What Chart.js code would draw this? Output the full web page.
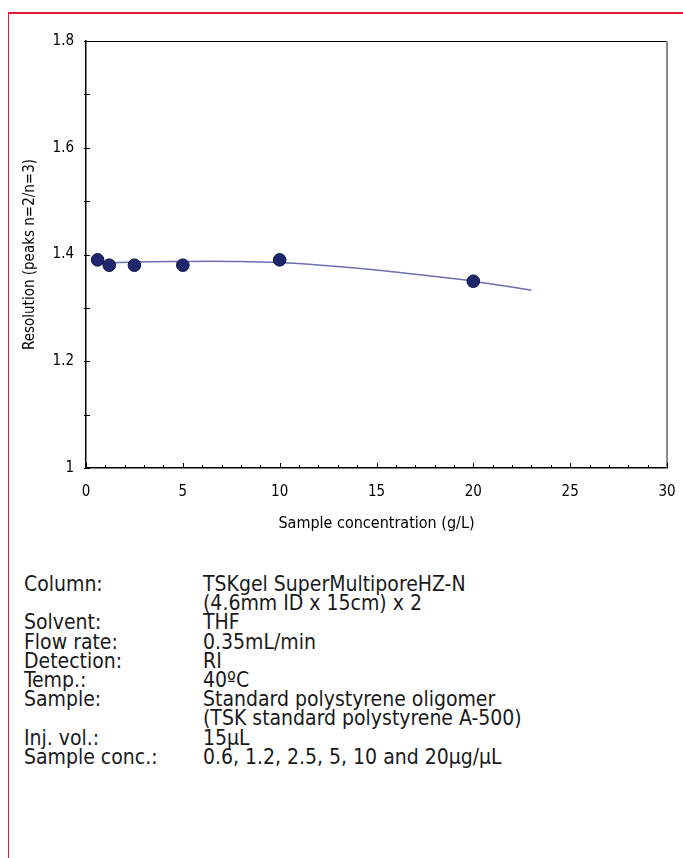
<!DOCTYPE html>
<html>
<head>
<meta charset="utf-8">
<script src="https://cdn.jsdelivr.net/npm/chart.js@4.4.1/dist/chart.umd.min.js"></script>
<style>
  html, body { margin: 0; padding: 0; background: #fff; }
  body { width: 683px; height: 858px; position: relative; overflow: hidden;
         font-family: "Liberation Sans Narrow", "DejaVu Sans Condensed", "Roboto", sans-serif; }
  #frame { position: absolute; left: 8px; top: 12px; right: 0; bottom: 0;
           border-top: 2px solid #e8173a; border-left: 1.5px solid #e8173a; }
  #cv { position: absolute; left: 0; top: 0; }
  .row { position: absolute; left: 24px; font-size: 21px; line-height: 19px; color: #1a1a1a; white-space: nowrap; }
  .row span.v { position: absolute; left: 179px; }
</style>
</head>
<body>
<div id="frame"></div>
<canvas id="cv" width="683" height="545"></canvas>
<div id="info"></div>
<script>
// ---- data ----
const concentrations = [0.6, 1.2, 2.5, 5, 10, 20];
const resolution     = [1.39, 1.38, 1.38, 1.38, 1.39, 1.35];
const trendConc = [0.7, 2.5, 5, 7.5, 10, 12.5, 15, 17.5, 20, 23];
const trendRes  = [1.383, 1.386, 1.387, 1.387, 1.385, 1.379, 1.371, 1.361, 1.350, 1.333];
const xTickLabels = ['0', '5', '10', '15', '20', '25', '30'];
const yTickLabels = ['1', '1.2', '1.4', '1.6', '1.8'];
const xTitle = 'Sample concentration (g/L)';
const yTitle = 'Resolution (peaks n=2/n=3)';
const infoLabels = ['Column:', '', 'Solvent:', 'Flow rate:', 'Detection:', 'Temp.:', 'Sample:', '', 'Inj. vol.:', 'Sample conc.:'];
const infoValues = ['TSKgel SuperMultiporeHZ-N', '(4.6mm ID x 15cm) x 2', 'THF', '0.35mL/min', 'RI', '40\u00BAC',
  'Standard polystyrene oligomer', '(TSK standard polystyrene A-500)', '15\u00B5L', '0.6, 1.2, 2.5, 5, 10 and 20\u00B5g/\u00B5L'];

// info block
const info = document.getElementById('info');
infoLabels.forEach((lab, i) => {
  const d = document.createElement('div');
  d.className = 'row';
  d.style.top = (575 + i * 19.2) + 'px';
  d.textContent = lab;
  const v = document.createElement('span');
  v.className = 'v';
  v.textContent = infoValues[i];
  d.appendChild(v);
  info.appendChild(d);
});

const FONT = "'Liberation Sans Narrow', 'DejaVu Sans Condensed', Roboto, sans-serif";

const frameAndTicks = {
  id: 'frameAndTicks',
  afterDraw(chart) {
    const ctx = chart.ctx, a = chart.chartArea;
    const xs = chart.scales.x, ys = chart.scales.y;
    ctx.save();
    ctx.strokeStyle = '#000'; ctx.lineWidth = 1.2;
    ctx.beginPath(); ctx.moveTo(a.left, a.top + 0.5); ctx.lineTo(a.right, a.top + 0.5); ctx.stroke();
    ctx.strokeStyle = '#8a8a8a'; ctx.lineWidth = 2;
    ctx.beginPath(); ctx.moveTo(a.right, a.top); ctx.lineTo(a.right, a.bottom + 1); ctx.stroke();
    ctx.strokeStyle = '#000'; ctx.lineWidth = 1;
    xs.ticks.forEach(t => {
      const px = Math.round(xs.getPixelForValue(t.value)) + 0.5;
      const major = Math.round(t.value) % 5 === 0;
      ctx.beginPath(); ctx.moveTo(px, a.bottom); ctx.lineTo(px, a.bottom - (major ? 5 : 3)); ctx.stroke();
    });
    ys.ticks.forEach(t => {
      const py = Math.round(ys.getPixelForValue(t.value)) + 0.5;
      ctx.beginPath(); ctx.moveTo(a.left - 2, py); ctx.lineTo(a.left + 4, py); ctx.stroke();
    });
    ctx.restore();
  }
};

new Chart(document.getElementById('cv'), {
  type: 'scatter',
  data: {
    datasets: [
      {
        type: 'line',
        data: trendConc.map((x, i) => ({ x, y: trendRes[i] })),
        borderColor: '#6e6eae',
        borderWidth: 1.5,
        pointRadius: 0,
        tension: 0.4,
        fill: false,
        order: 2
      },
      {
        data: concentrations.map((x, i) => ({ x, y: resolution[i] })),
        backgroundColor: '#20266e',
        borderColor: '#0d1040',
        borderWidth: 1,
        pointRadius: 6.3,
        order: 1
      }
    ]
  },
  options: {
    responsive: false,
    animation: false,
    devicePixelRatio: 1,
    layout: { padding: { left: 0, top: 41, right: 16, bottom: 0 } },
    plugins: { legend: { display: false }, tooltip: { enabled: false } },
    scales: {
      x: {
        type: 'linear', min: 0, max: 30,
        ticks: {
          stepSize: 1, autoSkip: false, maxRotation: 0, padding: 15, color: '#000',
          font: { family: FONT, size: 15 },
          callback: (v) => (Math.round(v) % 5 === 0 ? xTickLabels[Math.round(v) / 5] : '')
        },
        grid: { drawOnChartArea: false, drawTicks: false },
        border: { color: '#000', width: 1.5 },
        title: { display: true, text: xTitle, color: '#000', font: { family: FONT, size: 16 }, padding: { top: 6, bottom: 12 } },
        afterFit: (s) => { s.height = 545 - 468; s.paddingLeft = 0; s.paddingRight = 0; }
      },
      y: {
        type: 'linear', min: 1, max: 1.8,
        ticks: {
          stepSize: 0.1, autoSkip: false, padding: 12, color: '#000',
          font: { family: FONT, size: 15 },
          callback: (v) => { const k = Math.round(v * 10); return k % 2 === 0 ? yTickLabels[(k - 10) / 2] : ''; }
        },
        grid: { drawOnChartArea: false, drawTicks: false },
        border: { color: '#000', width: 1.5 },
        title: { display: true, text: yTitle, color: '#000', font: { family: FONT, size: 15 }, padding: { top: 21, bottom: 0 } },
        afterFit: (s) => { s.width = 86; s.paddingTop = 0; s.paddingBottom = 0; }
      }
    }
  },
  plugins: [frameAndTicks]
});
</script>
</body>
</html>
